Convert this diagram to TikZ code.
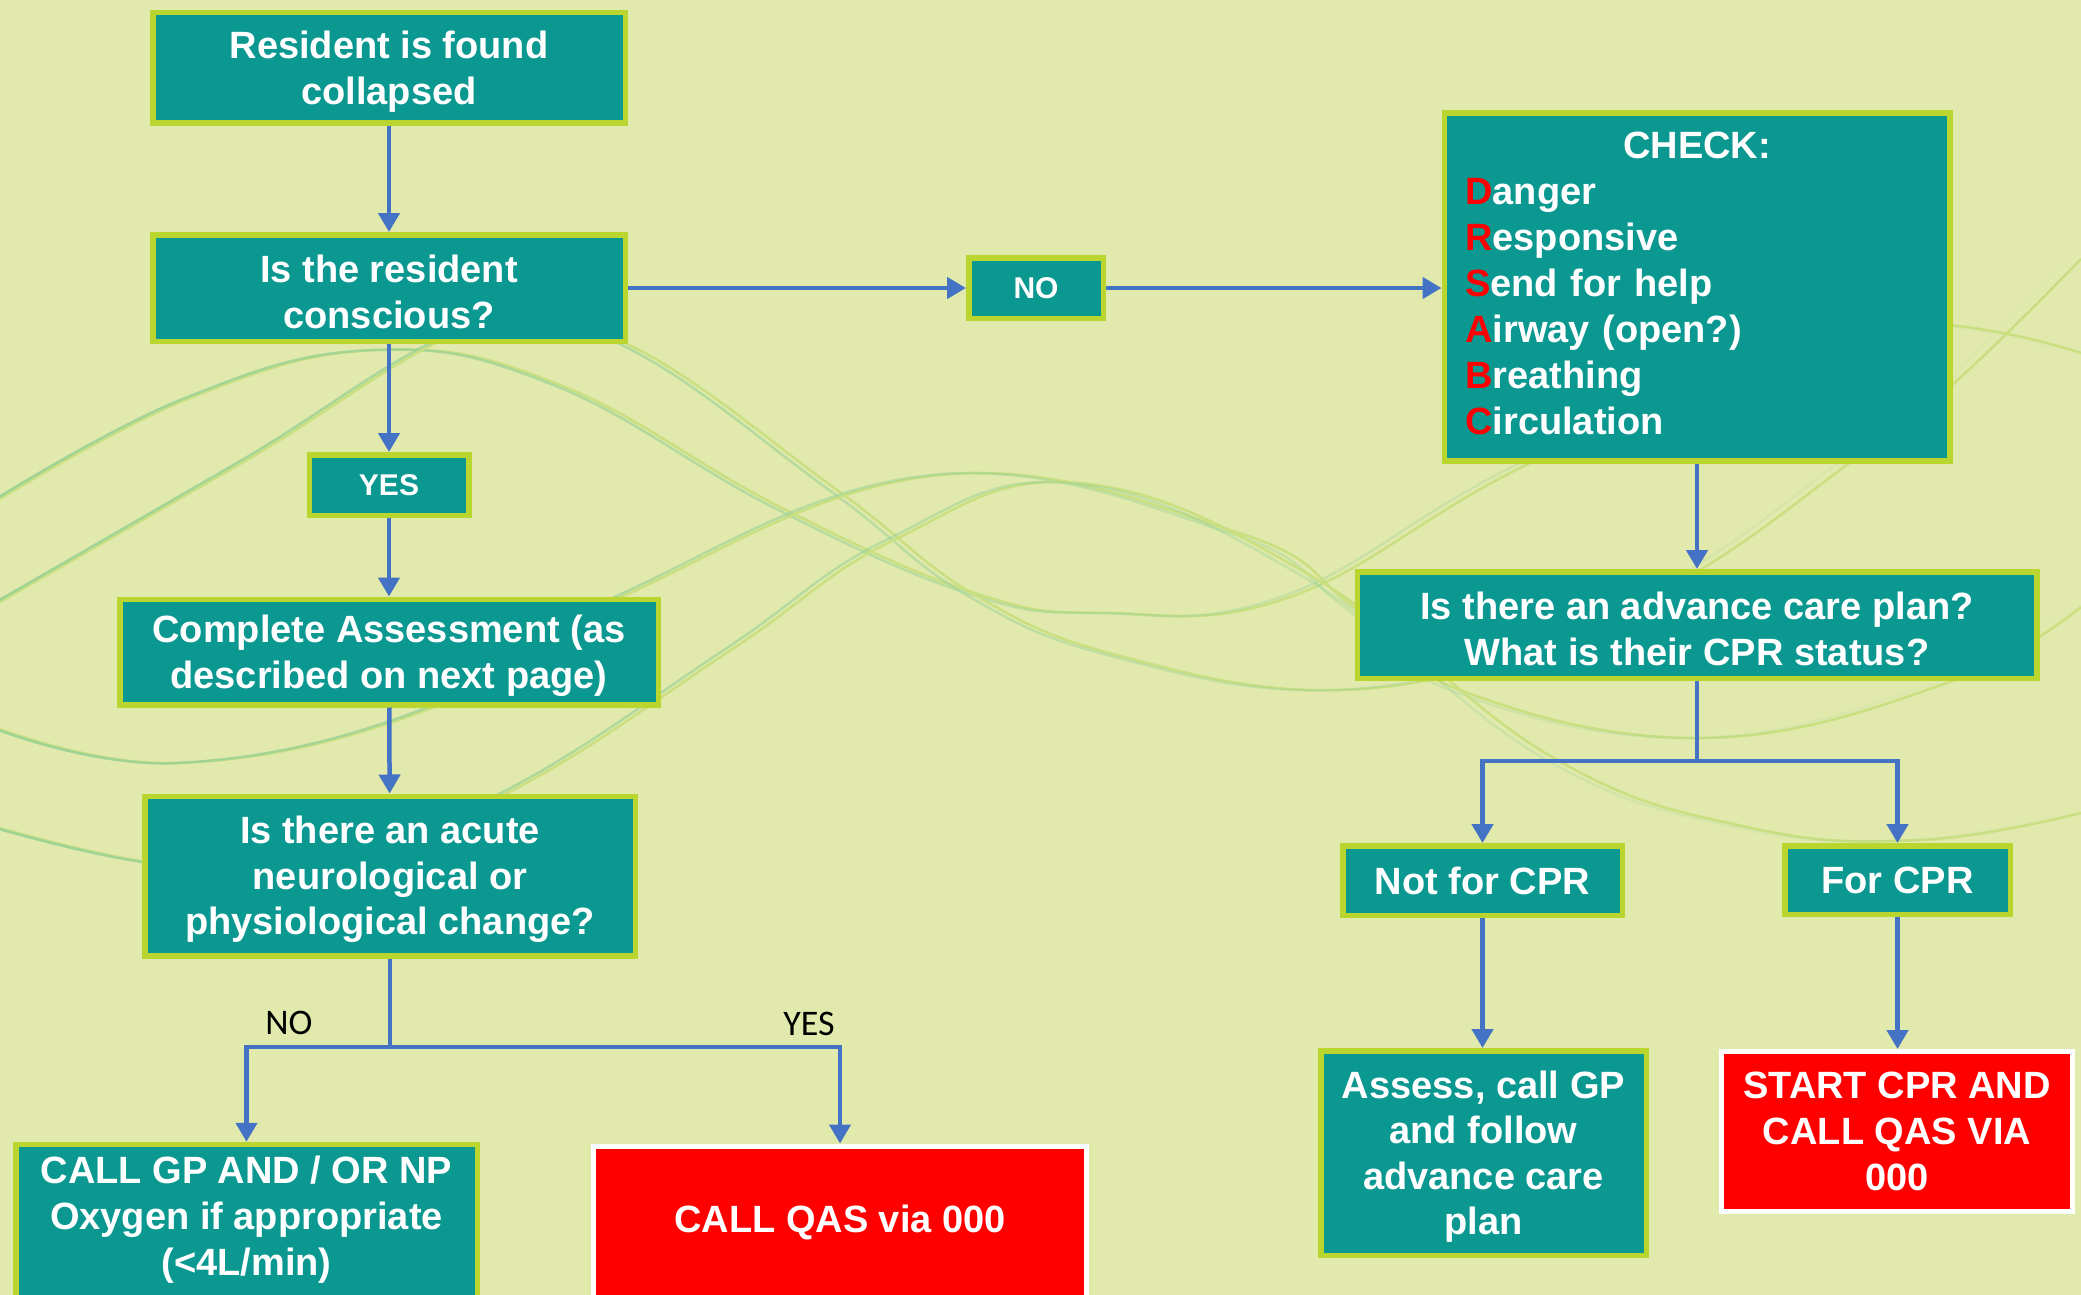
\documentclass[tikz,border=0pt]{standalone}
\usepackage{fontspec}
\setmainfont{Liberation Sans}
\newfontfamily\labelfont{Carlito}
\usetikzlibrary{arrows.meta,fadings}

\definecolor{bgcol}{RGB}{225,233,173}
\definecolor{tealbox}{RGB}{11,152,145}
\definecolor{limeedge}{RGB}{186,213,46}
\definecolor{linkblue}{RGB}{68,114,196}
\definecolor{alarm}{RGB}{255,0,0}
\definecolor{wavegreen}{RGB}{158,211,150}
\definecolor{waveyellow}{RGB}{201,223,128}

% extra room above the first line, so multi-line texts sit a little lower
\newcommand\toproom{\rule{0pt}{35pt}}
% extra room below the last line, so the list sits a little higher
\newcommand\bottomroom{\rule[-8pt]{0pt}{8pt}}

\tikzset{
  stepbox/.style={draw=limeedge, line width=5.5pt, fill=tealbox, text=white,
    font=\bfseries\fontsize{38}{45.5}\selectfont, align=center, inner sep=0pt},
  smallbox/.style={stepbox, font=\bfseries\fontsize{30}{36}\selectfont},
  alarmbox/.style={draw=white, line width=5pt, fill=alarm, inner sep=0pt},
  boxtext/.style={text=white, font=\bfseries\fontsize{38}{46}\selectfont,
    align=center, inner sep=0pt},
  linkline/.style={draw=linkblue, line width=4.5pt},
  link/.style={linkline, -{Triangle[length=19pt,width=21pt]}},
  branchlabel/.style={font=\labelfont\fontsize{36}{40}\selectfont, text=black, inner sep=0pt},
  wave/.style={line width=2.5pt},
}

\begin{document}
\begin{tikzpicture}[x=1pt,y=-1pt]
\useasboundingbox (0,0) rectangle (2081,1295);
\fill[bgcol] (0,0) rectangle (2081,1295);

% decorative background waves, green on the left turning yellow-green to the right
\begin{scope}
\clip (0,0) rectangle (2081,1295);
\draw[wave, waveyellow] plot[smooth, tension=0.7] coordinates {(0,499) (190,398) (379,350) (560,385) (780,507) (975,593) (1107,613) (1290,597) (1524,466) (1835,328) (2081,353)};
\draw[wave, wavegreen, path fading=east] plot[smooth, tension=0.7] coordinates {(0,499) (190,398) (379,350) (560,385) (780,507) (975,593) (1107,613) (1290,597) (1524,466) (1835,328) (2081,353)};
\draw[wave, waveyellow] plot[smooth, tension=0.7] coordinates {(0,602) (245,461) (480,325) (625,343) (837,490) (975,595) (1124,657) (1340,690) (1550,645) (1703,568) (1848,464) (1952,385) (2081,259)};
\draw[wave, wavegreen, path fading=east] plot[smooth, tension=0.7] coordinates {(0,602) (245,461) (480,325) (625,343) (837,490) (975,595) (1124,657) (1340,690) (1550,645) (1703,568) (1848,464) (1952,385) (2081,259)};
\draw[wave, waveyellow] plot[smooth, tension=0.7] coordinates {(0,729) (181,763) (429,709) (630,593) (940,475) (1239,533) (1354,607) (1460,690) (1704,738) (1947,683) (2081,607)};
\draw[wave, wavegreen, path fading=east] plot[smooth, tension=0.7] coordinates {(0,729) (181,763) (429,709) (630,593) (940,475) (1239,533) (1354,607) (1460,690) (1704,738) (1947,683) (2081,607)};
\draw[wave, waveyellow] plot[smooth, tension=0.7] coordinates {(0,828) (141,861) (300,875) (513,790) (731,650) (894,540) (1078,483) (1313,577) (1552,757) (1747,827) (1921,840) (2081,813)};
\draw[wave, wavegreen, path fading=east] plot[smooth, tension=0.7] coordinates {(0,828) (141,861) (300,875) (513,790) (731,650) (894,540) (1078,483) (1313,577) (1552,757) (1747,827) (1921,840) (2081,813)};
\end{scope}

% left column
\node[stepbox, minimum width=472.5pt, minimum height=110.5pt] (found) at (389,68) {\toproom Resident is found\\collapsed};
\node[stepbox, minimum width=472.5pt, minimum height=106.5pt] (conscious) at (389,288) {\toproom Is the resident\\conscious?};
\node[smallbox, minimum width=134.5pt, minimum height=60.5pt] (no) at (1036,288) {NO};
\node[smallbox, minimum width=159.5pt, minimum height=60.5pt] (yes) at (389,485) {YES};
\node[stepbox, minimum width=538.5pt, minimum height=105.5pt] (assess) at (389,652) {\toproom Complete Assessment (as\\described on next page)};
\node[stepbox, minimum width=490.5pt, minimum height=159.5pt] (acute) at (390,876) {\toproom Is there an acute\\neurological or\\physiological change?};

\node[stepbox, anchor=north, minimum width=461.5pt, minimum height=250pt] (gp) at (246.5,1141.75) {};
\node[boxtext] (gptext) at (246.5,1220) {CALL GP AND / OR NP\\Oxygen if appropriate\\(<4L/min)};
\node[alarmbox, anchor=north, minimum width=493pt, minimum height=250pt] (qas) at (840,1143.5) {};
\node[boxtext] (qastext) at (840,1222) {CALL QAS via 000};

\node[branchlabel] (lblno) at (289,1023) {NO};
\node[branchlabel] (lblyes) at (809,1024) {YES};

% right column
\node[stepbox, minimum width=505.5pt, minimum height=347.5pt, text width=463.5pt,
      align=left, inner xsep=21pt, font=\bfseries\fontsize{38}{46}\selectfont] (check) at (1697,287)
  {\hfill CHECK:\hfill\null\\
   \textcolor{alarm}{D}anger\\
   \textcolor{alarm}{R}esponsive\\
   \textcolor{alarm}{S}end for help\\
   \textcolor{alarm}{A}irway (open?)\\
   \textcolor{alarm}{B}reathing\\
   \textcolor{alarm}{C}irculation\bottomroom};
\node[stepbox, minimum width=679.5pt, minimum height=106.5pt] (plan) at (1697,625) {\toproom Is there an advance care plan?\\What is their CPR status?};
\node[stepbox, minimum width=279.5pt, minimum height=69.5pt] (notcpr) at (1482.5,880.5) {Not for CPR};
\node[stepbox, minimum width=225.5pt, minimum height=68.5pt] (forcpr) at (1897.5,880) {For CPR};
\node[stepbox, minimum width=325.5pt, minimum height=204.5pt] (follow) at (1483.5,1153) {\toproom Assess, call GP\\and follow\\advance care\\plan};
\node[alarmbox, minimum width=351pt, minimum height=160pt, text=white, align=center,
      font=\bfseries\fontsize{38}{46}\selectfont] (startcpr) at (1897,1131.5) {START CPR AND\\CALL QAS VIA\\000};

% connectors
\coordinate (splitL) at (390,1047);
\coordinate (splitR) at (1697,761);
\draw[link] (found) -- (conscious);
\draw[link] (conscious.east) -- (no.west);
\draw[link] (no.east) -- (no.east -| check.west);
\draw[link] (conscious) -- (yes);
\draw[link] (yes) -- (assess);
\draw[link] (assess) -- (acute);
\draw[linkline] (acute.south) -- (splitL);
\draw[link] (splitL) -| (gp.north);
\draw[link] (splitL) -| (qas.north);
\draw[link] (check) -- (plan);
\draw[linkline] (plan.south) -- (splitR);
\draw[link] (splitR) -| (notcpr.north);
\draw[link] (splitR) -| (forcpr.north);
\draw[link] (notcpr.south) -- (notcpr.south |- follow.north);
\draw[link] (forcpr.south) -- (forcpr.south |- startcpr.north);
\end{tikzpicture}
\end{document}
